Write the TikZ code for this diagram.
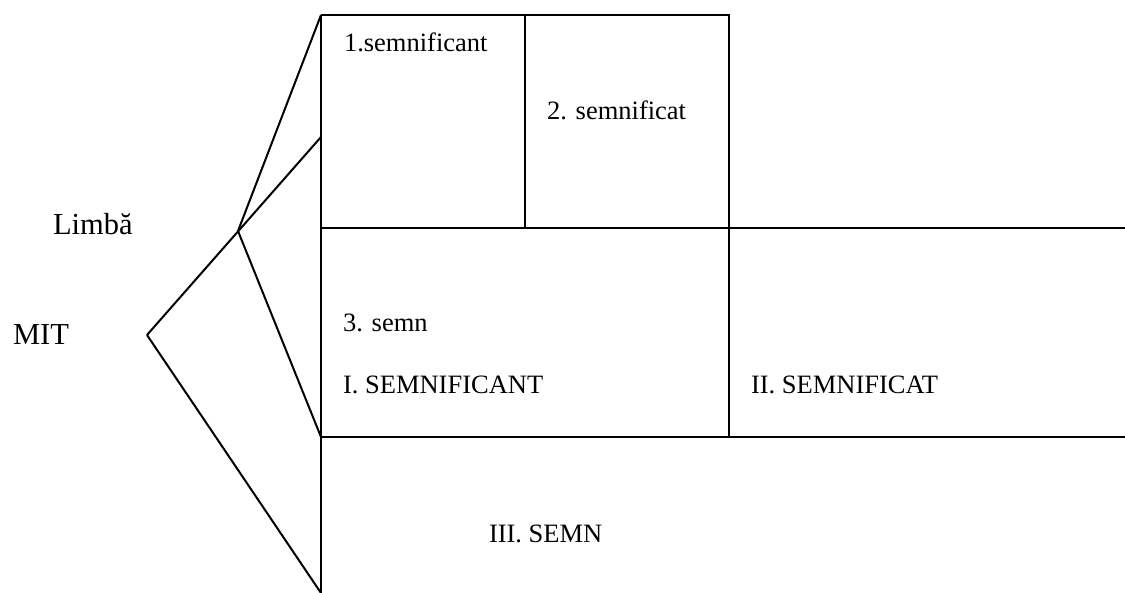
\documentclass[tikz,border=0pt]{standalone}
\usepackage{fontspec}
\setmainfont{Liberation Serif}
\usepackage{tikz}
\tikzset{
  lbl/.style={anchor=base west,inner sep=0pt,font=\fontsize{26.5}{30}\selectfont},
  biglbl/.style={anchor=base west,inner sep=0pt,font=\fontsize{30.5}{34}\selectfont},
}

\begin{document}
\begin{tikzpicture}[x=1pt,y=-1pt,line width=2pt]
\useasboundingbox (0,0) rectangle (1125,593);
%corner points of the grid
\coordinate (tl) at (321,15);
\coordinate (tm) at (525,15);
\coordinate (tr) at (729,15);
\coordinate (ml) at (321,137);
\coordinate (al) at (321,228);
\coordinate (am) at (525,228);
\coordinate (ar) at (1125,228);
\coordinate (bl) at (321,437);
\coordinate (bm) at (729,437);
\coordinate (br) at (1125,437);
\coordinate (bot) at (321,593);
%fork on the left
\coordinate (fork) at (238,231);
\coordinate (tip) at (147,335);
%grid
\draw (tl) -- (tr) -- (bm);
\draw (tm) -- (am);
\draw (tl) -- (bot);
\draw (al) -- (ar);
\draw (bl) -- (br);
%fork lines
\draw (tl) -- (fork) -- (bl);
\draw (tip) -- (ml);
\draw (tip) -- (bot);
%labels
\node[biglbl] (limba) at (52,235) {Limbă};
\node[biglbl] (mit) at (12,345) {MIT};
\node[lbl] (sf1) at (343,52) {1.semnificant};
\node[lbl] (sd2) at (546,120) {2. semnificat};
\node[lbl] (sn3) at (342,332) {3. semn};
\node[lbl] (sf) at (342,394) {I. SEMNIFICANT};
\node[lbl] (sd) at (750,394) {II. SEMNIFICAT};
\node[lbl] (sn) at (488,542) {III. SEMN};
\end{tikzpicture}
\end{document}
